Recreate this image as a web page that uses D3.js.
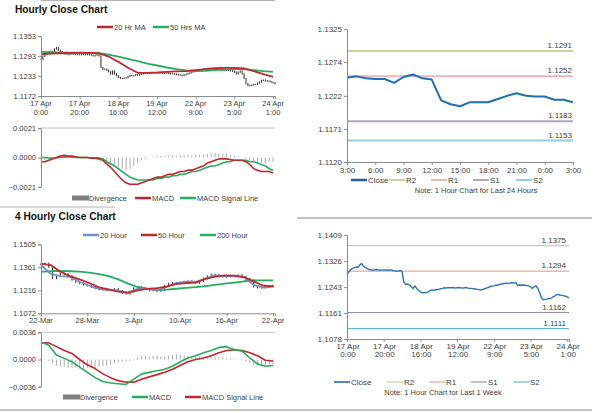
<!DOCTYPE html>
<html>
<head>
<meta charset="utf-8">
<script src="https://cdn.jsdelivr.net/npm/d3@7"></script>
<style>
  body { margin: 0; background: #fff; }
</style>
</head>
<body>
<div id="chart"></div>
<script>
// ---- hourly data (17 Apr 0:00 .. 24 Apr 1:00), one value per hour
const hourLabels = [["17 Apr", "0:00"], ["17 Apr", "20:00"], ["18 Apr", "16:00"], ["19 Apr", "12:00"],
  ["22 Apr", "9:00"], ["23 Apr", "5:00"], ["24 Apr", "1:00"]];
const hourLabelIdx = [0, 20, 40, 60, 80, 100, 120];
const hourlyClose = [
  1.1283, 1.1292, 1.1299, 1.1303, 1.1305, 1.1307, 1.1306, 1.1314, 1.1318, 1.1310,
  1.1306, 1.1303, 1.1299, 1.1298, 1.1297, 1.1298, 1.1299, 1.1298, 1.1297, 1.1298,
  1.1297, 1.1298, 1.1297, 1.1297, 1.1298, 1.1296, 1.1295, 1.1293, 1.1295, 1.1296,
  1.1293, 1.1258, 1.1252, 1.1253, 1.1250, 1.1245, 1.1238, 1.1247, 1.1239, 1.1233,
  1.1228, 1.1225, 1.1225, 1.1226, 1.1227, 1.1231, 1.1234, 1.1233, 1.1234, 1.1236,
  1.1235, 1.1238, 1.1239, 1.1241, 1.1240, 1.1242, 1.1241, 1.1241, 1.1242, 1.1240,
  1.1241, 1.1242, 1.1241, 1.1240, 1.1241, 1.1242, 1.1240, 1.1239, 1.1239, 1.1238,
  1.1237, 1.1236, 1.1235, 1.1234, 1.1236, 1.1238, 1.1240, 1.1242, 1.1245, 1.1246,
  1.1247, 1.1249, 1.1249, 1.1251, 1.1253, 1.1254, 1.1255, 1.1256, 1.1255, 1.1256,
  1.1257, 1.1256, 1.1258, 1.1249, 1.1250, 1.1249, 1.1250, 1.1249, 1.1248, 1.1247,
  1.1244, 1.1239, 1.1244, 1.1247, 1.1239, 1.1225, 1.1209, 1.1203, 1.1204, 1.1205,
  1.1207, 1.1207, 1.1211, 1.1214, 1.1219, 1.1220, 1.1218, 1.1217, 1.1216, 1.1214,
  1.1212, 1.1209];
// moving averages, every 5 hours
const ma20Hr = [1.1298, 1.1300, 1.1301, 1.1302, 1.1303, 1.1302, 1.1301, 1.1291, 1.1275, 1.1257,
  1.1242, 1.1242, 1.1243, 1.1245, 1.1246, 1.1247, 1.1250, 1.1253, 1.1255, 1.1257,
  1.1257, 1.1255, 1.1247, 1.1238, 1.1230];
const ma50Hr = [1.1305, 1.1304, 1.1303, 1.1303, 1.1302, 1.1302, 1.1301, 1.1297, 1.1291, 1.1284,
  1.1277, 1.1270, 1.1264, 1.1258, 1.1253, 1.1249, 1.1247, 1.1248, 1.1250, 1.1252,
  1.1254, 1.1253, 1.1250, 1.1247, 1.1245];
// MACD, every 2 hours
const macdHourly = [-0.0003, -0.0003, -0.0002, -0.0001, 0.0000, 0.0001, 0.00015, 0.0001, 0.0001, 0.00005,
  0.0000, 0.0000, 0.0000, -0.00005, -0.00005, -0.0001, -0.0002, -0.00045, -0.0007, -0.0010,
  -0.0013, -0.0016, -0.0018, -0.0019, -0.0019, -0.0019, -0.0018, -0.0017, -0.0016, -0.0015,
  -0.0014, -0.0014, -0.0013, -0.0012, -0.0012, -0.0011, -0.0010, -0.0010, -0.0009, -0.0009,
  -0.0008, -0.0007, -0.0006, -0.0004, -0.0003, -0.0002, -0.0001, -0.0001, -0.0001, -0.00015,
  -0.0002, -0.0002, -0.0002, -0.0003, -0.0005, -0.0008, -0.0009, -0.0010, -0.0010, -0.0010,
  -0.0011];
const signalHourly = [0.0000, 0.0000, -0.00003, -0.00005, -0.00003, 0.0000, 0.00003, 0.00005, 0.00003, 0.0000,
  0.0000, 0.0000, 0.0000, -0.00002, -0.00002, -0.00003, -0.0001, -0.0003, -0.00045, -0.0006,
  -0.0008, -0.0010, -0.0012, -0.0014, -0.0015, -0.0016, -0.0016, -0.0016, -0.0016, -0.0016,
  -0.0015, -0.0015, -0.0014, -0.0014, -0.0013, -0.0013, -0.0012, -0.0012, -0.0011, -0.0010,
  -0.0010, -0.0009, -0.0008, -0.0007, -0.0006, -0.0006, -0.0005, -0.0004, -0.0003, -0.0003,
  -0.0002, -0.0002, -0.0002, -0.0002, -0.0003, -0.0003, -0.0004, -0.0005, -0.0006, -0.0008,
  -0.0009];
const divHourly = [-0.0002, -0.0002, -0.0001, -0.00005, 0.00005, 0.0001, 0.0001, 0.00005, 0.00005, 0.00003,
  0.0000, 0.0000, 0.0000, -0.00003, -0.00003, -0.00005, -0.0001, -0.0003, -0.0004, -0.0005,
  -0.0007, -0.0008, -0.0009, -0.0008, -0.0006, -0.0004, -0.0002, -0.0001, 0.0000, 0.00005,
  0.0001, 0.0001, 0.0001, 0.00015, 0.00015, 0.0001, 0.00015, 0.0002, 0.0002, 0.00015,
  0.0002, 0.0002, 0.0002, 0.00025, 0.0003, 0.0003, 0.0003, 0.0003, 0.0003, 0.0002,
  0.0001, 0.00005, 0.0000, -0.0001, -0.0002, -0.0003, -0.0004, -0.0004, -0.0004, -0.0003,
  -0.0003];

// ---- last 24 hours
const dayLabels = ["3:00", "6:00", "9:00", "12:00", "15:00", "18:00", "21:00", "0:00", "3:00"];
const dayClose = [1.1250, 1.1252, 1.1249, 1.1248, 1.1248, 1.1242, 1.1251, 1.1255, 1.1249, 1.1247,
  1.1215, 1.1209, 1.1206, 1.1212, 1.1212, 1.1212, 1.1217, 1.1222, 1.1226, 1.1222,
  1.1221, 1.1221, 1.1216, 1.1216, 1.1212];
const levelNames = ["R2", "R1", "S1", "S2"];
const dayLevels = [1.1291, 1.1252, 1.1183, 1.1153];
const weekLevels = [1.1375, 1.1294, 1.1162, 1.1111];

// ---- 4 hourly data (22-Mar .. 22-Apr), close every 2 bars
const fourLabels = ["22-Mar", "28-Mar", "3-Apr", "10-Apr", "16-Apr", "22-Apr"];
const fourLabelIdx = [0, 24, 48, 72, 96, 120];
const fourClose = [1.1380, 1.1384, 1.1363, 1.1292, 1.1304, 1.1321, 1.1317, 1.1305, 1.1283, 1.1269,
  1.1262, 1.1252, 1.1246, 1.1237, 1.1230, 1.1222, 1.1220, 1.1216, 1.1218, 1.1224,
  1.1212, 1.1200, 1.1195, 1.1208, 1.1230, 1.1237, 1.1230, 1.1224, 1.1216, 1.1220,
  1.1212, 1.1218, 1.1245, 1.1258, 1.1262, 1.1258, 1.1266, 1.1270, 1.1273, 1.1269,
  1.1264, 1.1275, 1.1290, 1.1304, 1.1315, 1.1311, 1.1303, 1.1302, 1.1304, 1.1304,
  1.1307, 1.1311, 1.1300, 1.1290, 1.1280, 1.1240, 1.1233, 1.1233, 1.1236, 1.1240,
  1.1245];
// moving averages, every 5 bars
const ma20Hour = [1.1375, 1.1320, 1.1305, 1.1300, 1.1270, 1.1245, 1.1225, 1.1218, 1.1215, 1.1200,
  1.1225, 1.1225, 1.1215, 1.1240, 1.1260, 1.1270, 1.1270, 1.1290, 1.1310, 1.1305,
  1.1306, 1.1300, 1.1250, 1.1233, 1.1240];
const ma50Hour = [1.1384, 1.1375, 1.1333, 1.1305, 1.1285, 1.1262, 1.1235, 1.1222, 1.1208, 1.1202,
  1.1216, 1.1225, 1.1230, 1.1240, 1.1256, 1.1262, 1.1265, 1.1288, 1.1302, 1.1310,
  1.1308, 1.1298, 1.1272, 1.1245, 1.1243];
const ma200Hour = [1.1332, 1.1337, 1.1338, 1.1336, 1.1333, 1.1327, 1.1318, 1.1305, 1.1285, 1.1258,
  1.1237, 1.1227, 1.1218, 1.1220, 1.1226, 1.1231, 1.1236, 1.1243, 1.1250, 1.1258,
  1.1265, 1.1273, 1.1278, 1.1279, 1.1279];
// MACD lines every 4 bars, divergence every 2 bars
const macdFour = [0.0023, 0.0019, 0.0006, 0.00015, -0.0003, -0.0010, -0.0017, -0.0024, -0.0029, -0.0031,
  -0.0032, -0.0033, -0.0026, -0.0019, -0.0017, -0.0015, -0.0013, -0.0009, -0.0003, 0.0002,
  0.0005, 0.0009, 0.0012, 0.0016, 0.0017, 0.0013, 0.0011, 0.0002, -0.0006, -0.0009,
  -0.0008];
const signalFour = [0.0022, 0.0022, 0.0017, 0.0012, 0.0008, 0.0000, -0.0007, -0.0012, -0.0019, -0.0024,
  -0.0028, -0.0030, -0.0030, -0.0026, -0.0023, -0.0020, -0.0017, -0.0013, -0.0008, -0.0003,
  0.0000, 0.0002, 0.0005, 0.0009, 0.0012, 0.0013, 0.0012, 0.0009, 0.0005, -0.0001,
  -0.0002];
const divFour = [0.0002, 0.0001, -0.0002, -0.0005, -0.0008, -0.0009, -0.0010, -0.0011, -0.0011, -0.0011,
  -0.0012, -0.0012, -0.0011, -0.0011, -0.0011, -0.0010, -0.0009, -0.0008, -0.0007, -0.0005,
  -0.0004, -0.0003, -0.0003, -0.0002, 0.0001, 0.0003, 0.0005, 0.0005, 0.0004, 0.0005,
  0.0005, 0.0004, 0.0004, 0.0005, 0.0006, 0.0007, 0.0006, 0.0005, 0.0005, 0.0004,
  0.0003, 0.0004, 0.0004, 0.0004, 0.0004, 0.0004, 0.0004, 0.0003, 0.0002, 0.0001,
  0.0001, 0.0000, -0.0001, -0.0003, -0.0005, -0.0007, -0.0008, -0.0009, -0.0008, -0.0007,
  -0.0006];

// ---- axis ticks
const hourlyTicks = [1.1172, 1.1233, 1.1293, 1.1353];
const macdHourTicks = [-0.0021, 0, 0.0021];
const dayTicks = [1.1120, 1.1171, 1.1222, 1.1274, 1.1325];
const fourTicks = [1.1072, 1.1216, 1.1361, 1.1505];
const macdFourTicks = [-0.0036, 0, 0.0036];
const weekTicks = [1.1078, 1.1161, 1.1243, 1.1326, 1.1409];

const width = 600, height = 413;
const font = "'Liberation Sans', Arial, sans-serif";
const ink = "#404040", axisGray = "#8c8c8c", gridGray = "#b0b0b0";
const red = "#c0282d", green = "#27ad5f", blue = "#6f93c8";

const svg = d3.select("#chart").append("svg")
  .attr("width", width)
  .attr("height", height)
  .attr("viewBox", [0, 0, width, height])
  .style("font-family", font);

const series = (values, step) => values.map((v, i) => [i * step, v]);
const fmt = d3.format(".4f");

function leftAxis(y, ticks, x0, fs) {
  svg.append("g")
    .attr("transform", `translate(${x0},0)`)
    .call(d3.axisLeft(y).tickValues(ticks).tickFormat(fmt).tickSize(3).tickPadding(2))
    .attr("font-family", font)
    .attr("font-size", fs)
    .call(g => g.select(".domain").attr("stroke", axisGray))
    .call(g => g.selectAll(".tick line").attr("stroke", axisGray))
    .call(g => g.selectAll(".tick text").attr("fill", ink));
}

function grid(y, ticks, x0, x1) {
  svg.append("g")
    .selectAll("line")
    .data(ticks)
    .join("line")
    .attr("x1", x0).attr("x2", x1)
    .attr("y1", y).attr("y2", y)
    .attr("stroke", gridGray)
    .attr("stroke-width", 0.8);
}

function bottomAxis(x, idx, yPos) {
  svg.append("g")
    .attr("transform", `translate(0,${yPos})`)
    .call(d3.axisBottom(x).tickValues(idx).tickFormat("").tickSize(3))
    .call(g => g.select(".domain").attr("stroke", axisGray))
    .call(g => g.selectAll(".tick line").attr("stroke", axisGray));
}

function drawLine(x, y, pts, color, w) {
  svg.append("path")
    .datum(pts)
    .attr("fill", "none")
    .attr("stroke", color)
    .attr("stroke-width", w)
    .attr("stroke-linejoin", "round")
    .attr("d", d3.line().x(d => x(d[0])).y(d => y(d[1])));
}

// thin high-low bars spanning previous close to close
function hlBars(x, y, pts, pad) {
  svg.append("g")
    .selectAll("line")
    .data(pts)
    .join("line")
    .attr("x1", d => x(d[0])).attr("x2", d => x(d[0]))
    .attr("y1", (d, i) => y(Math.max(d[1], pts[Math.max(i - 1, 0)][1]) + pad))
    .attr("y2", (d, i) => y(Math.min(d[1], pts[Math.max(i - 1, 0)][1]) - pad))
    .attr("stroke", "#111")
    .attr("stroke-width", 0.9);
}

function divBars(x, y, pts, w) {
  svg.append("g")
    .selectAll("rect")
    .data(pts)
    .join("rect")
    .attr("x", d => x(d[0]) - w / 2)
    .attr("width", w)
    .attr("y", d => Math.min(y(0), y(d[1])))
    .attr("height", d => Math.abs(y(d[1]) - y(0)))
    .attr("fill", "#ababab");
}

function text(x, y, str, opts = {}) {
  return svg.append("text")
    .attr("x", x).attr("y", y)
    .attr("font-size", opts.size || 7.5)
    .attr("font-weight", opts.weight || null)
    .attr("text-anchor", opts.anchor || "start")
    .attr("fill", opts.fill || ink)
    .text(str);
}

function legend(items, yPos, fs) {
  items.forEach(it => {
    if (it.kind === "rect") {
      svg.append("rect").attr("x", it.x).attr("y", yPos - 2.5).attr("width", 17).attr("height", 5).attr("fill", "#7f7f7f");
    } else {
      svg.append("line").attr("x1", it.x).attr("x2", it.x + 16).attr("y1", yPos).attr("y2", yPos)
        .attr("stroke", it.color).attr("stroke-width", it.w || 2.5);
    }
    text(it.x + 17, yPos + 2.7, it.label, { size: fs });
  });
}

// ================= Hourly Close Chart (top left)
text(15, 13, "Hourly Close Chart", { size: 10.2, weight: "bold", fill: "#111" });
const xH = d3.scaleLinear().domain([0, 121]).range([41, 275]);
const yH = d3.scaleLinear().domain([1.1172, 1.1353]).range([96, 36]);
grid(hourlyTicks.slice(1).map(yH), hourlyTicks.slice(1), 41, 275);
hlBars(xH, yH, series(hourlyClose, 1), 0.0002);
drawLine(xH, yH, series(ma50Hr, 5), green, 1.8);
drawLine(xH, yH, series(ma20Hr, 5), red, 1.8);
leftAxis(yH, hourlyTicks, 41, 7.5);
bottomAxis(xH, hourLabelIdx, 96);
hourLabelIdx.forEach((d, i) => {
  text(xH(d), 106, hourLabels[i][0], { anchor: "middle" });
  text(xH(d), 115, hourLabels[i][1], { anchor: "middle" });
});
legend([
  { x: 97, color: red, label: "20 Hr MA" },
  { x: 153, color: green, label: "50 Hrs MA" }
], 27, 7.5);

// hourly MACD
const yHM = d3.scaleLinear().domain([-0.0021, 0.0021]).range([187, 128]);
grid([yHM(0.0021)], [0.0021], 41, 275);
divBars(xH, yHM, series(divHourly, 2), 1);
drawLine(xH, yHM, series(signalHourly, 2), green, 1.6);
drawLine(xH, yHM, series(macdHourly, 2), red, 1.6);
leftAxis(yHM, macdHourTicks, 41, 7.5);
legend([
  { x: 72, kind: "rect", label: "Divergence" },
  { x: 135, color: red, label: "MACD" },
  { x: 180, color: green, label: "MACD Signal Line" }
], 198, 7.5);
svg.append("line").attr("x1", 0).attr("x2", 115).attr("y1", 207).attr("y2", 207)
  .attr("stroke", "#a0a0a0").attr("stroke-width", 0.8);

// ================= Last 24 hours (top right)
const xD = d3.scaleLinear().domain([0, 24]).range([347, 573]);
const yD = d3.scaleLinear().domain([1.1120, 1.1325]).range([162, 29]);
const dayColors = ["#c3d69b", "#e6b9b8", "#b3a2c7", "#93cddd"];
svg.append("g")
  .selectAll("line")
  .data(dayLevels)
  .join("line")
  .attr("x1", 347).attr("x2", 573)
  .attr("y1", d => yD(d)).attr("y2", d => yD(d))
  .attr("stroke", (d, i) => dayColors[i])
  .attr("stroke-width", 2);
dayLevels.forEach(v => text(572, yD(v) - 3, fmt(v), { anchor: "end", size: 8 }));
drawLine(xD, yD, series(dayClose, 1), "#1f6fb4", 2);
leftAxis(yD, dayTicks, 347, 8);
svg.append("g")
  .attr("transform", "translate(0,162)")
  .call(d3.axisBottom(xD).tickValues(d3.range(0, 25, 3)).tickFormat((d, i) => dayLabels[i]).tickSize(3).tickPadding(2))
  .attr("font-family", font)
  .attr("font-size", 8)
  .call(g => g.select(".domain").attr("stroke", axisGray))
  .call(g => g.selectAll(".tick line").attr("stroke", axisGray))
  .call(g => g.selectAll(".tick text").attr("fill", ink));
legend([
  { x: 351, color: "#1f5f9e", label: "Close", w: 2.5 },
  { x: 389, color: dayColors[0], label: levelNames[0], w: 2 },
  { x: 431, color: dayColors[1], label: levelNames[1], w: 2 },
  { x: 473, color: dayColors[2], label: levelNames[2], w: 2 },
  { x: 516, color: dayColors[3], label: levelNames[3], w: 2 }
], 180, 8);
text(476, 193, "Note: 1 Hour Chart for Last 24 Hours", { anchor: "middle", size: 7.5 });
svg.append("line").attr("x1", 297).attr("x2", 592).attr("y1", 218).attr("y2", 218)
  .attr("stroke", "#8c8c8c").attr("stroke-width", 1);

// ================= 4 Hourly Close Chart (bottom left)
text(15, 220, "4 Hourly Close Chart", { size: 10.2, weight: "bold", fill: "#111" });
const xF = d3.scaleLinear().domain([0, 121]).range([41, 275]);
const yF = d3.scaleLinear().domain([1.1072, 1.1505]).range([313.3, 244.3]);
grid(fourTicks.slice(1).map(yF), fourTicks.slice(1), 41, 275);
hlBars(xF, yF, series(fourClose, 2), 0.0006);
drawLine(xF, yF, series(ma200Hour, 5), green, 1.8);
drawLine(xF, yF, series(ma20Hour, 5), blue, 1.8);
drawLine(xF, yF, series(ma50Hour, 5), red, 1.8);
leftAxis(yF, fourTicks, 41, 7.5);
bottomAxis(xF, fourLabelIdx, 313.3);
fourLabelIdx.forEach((d, i) => text(xF(d), 323, fourLabels[i], { anchor: "middle" }));
legend([
  { x: 83, color: blue, label: "20 Hour" },
  { x: 141, color: red, label: "50 Hour" },
  { x: 200, color: green, label: "200 Hour" }
], 235, 7.5);

// 4 hourly MACD
const yFM = d3.scaleLinear().domain([-0.0036, 0.0036]).range([386.7, 332.3]);
grid([yFM(0.0036)], [0.0036], 41, 275);
divBars(xF, yFM, series(divFour, 2), 1);
drawLine(xF, yFM, series(signalFour, 4), red, 1.6);
drawLine(xF, yFM, series(macdFour, 4), green, 1.6);
leftAxis(yFM, macdFourTicks, 41, 7.5);
legend([
  { x: 63, kind: "rect", label: "Divergence" },
  { x: 132, color: green, label: "MACD" },
  { x: 185, color: red, label: "MACD Signal Line" }
], 397, 7.5);

// ================= Last 1 week (bottom right)
const xW = d3.scaleLinear().domain([0, 121]).range([347, 569]);
const yW = d3.scaleLinear().domain([1.1078, 1.1409]).range([339, 235]);
const weekColors = ["#c4bd97", "#d99694", "#8c80a8", "#4bacc6"];
svg.append("g")
  .selectAll("line")
  .data(weekLevels)
  .join("line")
  .attr("x1", 347).attr("x2", 569)
  .attr("y1", d => yW(d)).attr("y2", d => yW(d))
  .attr("stroke", (d, i) => weekColors[i])
  .attr("stroke-width", 1);
weekLevels.forEach(v => text(566, yW(v) - 3, fmt(v), { anchor: "end", size: 8 }));
drawLine(xW, yW, series(hourlyClose, 1), "#2f75b5", 1.4);
leftAxis(yW, weekTicks, 347, 8);
bottomAxis(xW, hourLabelIdx, 339);
hourLabelIdx.forEach((d, i) => {
  text(xW(d) + 1, 349, hourLabels[i][0], { anchor: "middle", size: 8 });
  text(xW(d) + 1, 357, hourLabels[i][1], { anchor: "middle", size: 8 });
});
legend([
  { x: 334, color: "#1f5f9e", label: "Close", w: 1.5 },
  { x: 387, color: weekColors[0], label: levelNames[0], w: 1 },
  { x: 429, color: weekColors[1], label: levelNames[1], w: 1 },
  { x: 471, color: weekColors[2], label: levelNames[2], w: 1 },
  { x: 513, color: weekColors[3], label: levelNames[3], w: 1 }
], 382, 8);
text(443, 395, "Note: 1 Hour Chart for Last 1 Week", { anchor: "middle", size: 7.5 });
svg.append("line").attr("x1", 0).attr("x2", 592).attr("y1", 410).attr("y2", 410)
  .attr("stroke", "#8c8c8c").attr("stroke-width", 1);
</script>
</body>
</html>
